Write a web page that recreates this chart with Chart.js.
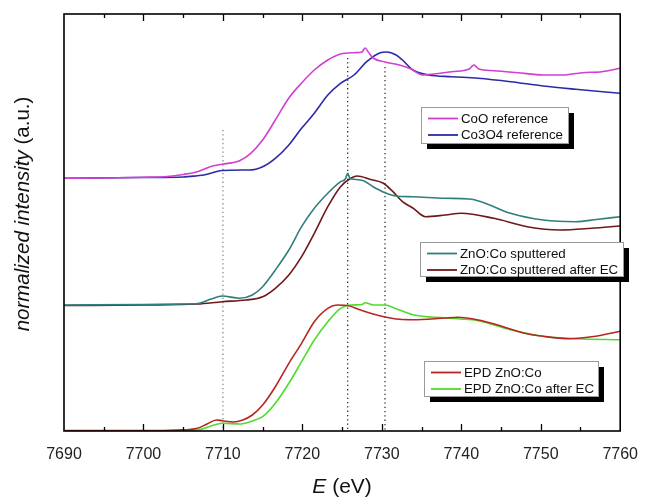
<!DOCTYPE html>
<html><head><meta charset="utf-8">
<script src="https://cdn.jsdelivr.net/npm/chart.js@4.4.1/dist/chart.umd.min.js"></script>
<style>html,body{margin:0;padding:0;background:#fff}</style>
</head><body>
<canvas id="c" width="652" height="498"></canvas>
<script>
// ---- data (energy in eV, intensity in arbitrary offset units) ----
const xTicks = [7690, 7700, 7710, 7720, 7730, 7740, 7750, 7760];

const coOE = [7690,7695,7700,7703,7705,7706.8,7708.4,7709.9,7712.1,7713.5,7715,7716.6,7718.3,7719.9,7721.5,7723.2,7724.8,7726.5,7727.5,7727.9,7728.3,7728.9,7730.4,7732.2,7733.7,7735.1,7736.5,7738.8,7741,7741.6,7742.2,7744.1,7747.1,7750.3,7752.7,7755.2,7757.7,7760];
const coOY = [252.7,253,253.7,254.5,256.5,259.3,264.3,266.7,270.3,277.7,291,311,333,348,361,371,377,378.3,379,383,379,373,369,366,362,356,357,359.3,362,366,362,360.3,358.3,356,356,358.3,359.3,362.7];

const co3o4E = [7690,7700,7705,7706.8,7707.6,7709.9,7712.5,7713.3,7715,7716.6,7718.3,7719.9,7721.5,7723.2,7724.8,7726.5,7728.1,7729.8,7730.6,7731.8,7732.6,7733.9,7735.9,7738.8,7742.1,7746.2,7750.3,7754.4,7760];
const co3o4Y = [252.7,253.5,254,255.3,256,260.5,261,261,264.3,272.7,286,302.7,317.7,336,347.7,356,369.3,378.3,379,376,371,361,356,354.3,352.7,349.3,345,341.7,337.7];

const sputE = [7690,7700,7705,7706.8,7708.5,7709.9,7712.1,7713.7,7715,7716.6,7718.3,7719.9,7721.5,7723.2,7724.8,7725.4,7725.7,7726,7726.5,7727.7,7728.9,7730.4,7731.8,7733.9,7737.9,7741,7742.5,7746.2,7750.3,7754.4,7757,7760];
const sputY = [126,126.5,127,127.5,132,135,132.7,136,144.3,161,181,204.3,222.7,237.7,249.3,252,257.7,252.5,251.7,250.3,244.3,238.3,235,234.3,232.7,232,229.3,217.7,211,209.3,211.5,214.3];

const sputEcE = [7690,7700,7706.8,7709.9,7712.9,7715,7716.6,7718.3,7719.9,7721.5,7723.2,7724.8,7726.1,7726.9,7728.5,7730.2,7731.4,7732.6,7733.9,7735.5,7738,7740,7744.1,7748.3,7752.4,7756.4,7760];
const sputEcY = [125.5,126,127,129.3,131,134.3,142.7,156,174.3,197.7,224.3,244.3,252.7,255,251.7,247.7,239.3,229.3,223,214.3,216,217.7,212.7,204.3,201,202.7,205];

const epdE = [7690,7700,7704.3,7706.8,7708,7709.2,7709.9,7711.3,7712.5,7713.7,7715,7716.6,7718.3,7719.9,7721.5,7723.2,7724.4,7725.7,7727.3,7728.9,7730.4,7732.2,7733.9,7738,7739.6,7741.5,7743.7,7747.8,7750.3,7753.6,7756.9,7760];
const epdY = [0.5,0.5,1,2.8,7,11,10.3,9,11,16,26,44.3,67.7,87.7,109.3,122.7,126,125.5,121,117,114,111.7,111.3,113,113.7,112,108,98,94.7,92.3,94.7,99.7];

const epdEcE = [7690,7700,7705,7706.8,7708.5,7709.9,7712.1,7713.5,7715,7716.6,7718.3,7719.9,7721.5,7723.2,7724.8,7726.1,7727.5,7727.9,7728.9,7730.4,7731.8,7733.9,7738,7742.1,7746.2,7750.3,7754.4,7760];
const epdEcY = [0,0,0.5,1,5,7.7,7,9.5,14.3,27.7,47.7,69.3,91,109.3,122.7,126,126.5,128.3,126,126,122.3,116.3,113,110.3,101.3,94.7,92.3,91.3];

// dotted guide lines: energy and top value
const guideE = [7710, 7725.7, 7730.4];
const guideTop = [301, 373, 364];

const seriesLabels = ['CoO reference','Co3O4 reference','ZnO:Co sputtered','ZnO:Co sputtered after EC','EPD ZnO:Co','EPD ZnO:Co after EC'];
const seriesColors = ['#d040d0','#2b2ba8','#2f7f7c','#6e1818','#b82424','#4fdc2a'];

function pts(e, y){ return e.map((v,i)=>({x:v, y:y[i]})); }
const seriesData = [pts(coOE,coOY), pts(co3o4E,co3o4Y), pts(sputE,sputY), pts(sputEcE,sputEcY), pts(epdE,epdY), pts(epdEcE,epdEcY)];

const datasets = seriesData.map((d,i)=>({
  label: seriesLabels[i], data: d, borderColor: seriesColors[i], backgroundColor: seriesColors[i],
  borderWidth: 1.6, pointRadius: 0, cubicInterpolationMode: 'monotone', fill: false
}));
guideE.forEach((e,i)=>{
  datasets.push({label:'_guide'+i, data:[{x:e,y:guideTop[i]},{x:e,y:0}], borderColor: i===0?'#8a8a8a':'#333',
    borderWidth: 1.3, borderDash:[1.3,3], pointRadius:0, fill:false});
});

const legendGroups = [
  {box:[421,107,147,36], idx:[0,1]},
  {box:[420,242,203,34], idx:[2,3]},
  {box:[424,361,174,35], idx:[4,5]}
];

const decor = {
  id:'decor',
  afterDraw(chart){
    const ctx = chart.ctx, ca = chart.chartArea, xs = chart.scales.x;
    ctx.save();
    // inward ticks top & bottom
    ctx.strokeStyle = '#000'; ctx.lineWidth = 1.3;
    for (let v = 7695; v < 7760; v += 5) {
      const px = Math.round(xs.getPixelForValue(v)) + 0.5;
      const len = (v % 10 === 0) ? 7 : 4;
      ctx.beginPath();
      ctx.moveTo(px, ca.bottom); ctx.lineTo(px, ca.bottom - len);
      ctx.moveTo(px, ca.top); ctx.lineTo(px, ca.top + len);
      ctx.stroke();
    }
    // frame
    ctx.lineWidth = 1.6;
    ctx.strokeRect(ca.left, ca.top, ca.right - ca.left, ca.bottom - ca.top);

    // legends
    legendGroups.forEach(g=>{
      const [bx,by,bw,bh] = g.box;
      ctx.fillStyle = '#000';
      ctx.fillRect(bx+6, by+6, bw, bh);
      ctx.fillStyle = '#fff';
      ctx.fillRect(bx, by, bw, bh);
      ctx.strokeStyle = '#9a9a9a'; ctx.lineWidth = 1;
      ctx.strokeRect(bx+0.5, by+0.5, bw, bh);
      g.idx.forEach((di,k)=>{
        const ds = chart.data.datasets[di];
        const yy = by + 11.5 + k*16.5;
        ctx.strokeStyle = ds.borderColor; ctx.lineWidth = 1.8;
        ctx.beginPath(); ctx.moveTo(bx+7, yy); ctx.lineTo(bx+37, yy); ctx.stroke();
        ctx.fillStyle = '#111';
        ctx.font = '13.3px "Liberation Sans", Arial, sans-serif';
        ctx.textBaseline = 'middle'; ctx.textAlign = 'left';
        ctx.fillText(ds.label, bx+40, yy+0.5);
      });
    });

    // x title: E (eV)
    ctx.fillStyle = '#111'; ctx.textBaseline = 'middle'; ctx.textAlign = 'left';
    const f1 = 'italic 21px "Liberation Sans", Arial, sans-serif';
    const f2 = '21px "Liberation Sans", Arial, sans-serif';
    ctx.font = f1; const w1 = ctx.measureText('E').width;
    ctx.font = f2; const w2 = ctx.measureText(' (eV)').width;
    const cx = (ca.left + ca.right)/2;
    let sx = cx - (w1+w2)/2;
    ctx.font = f1; ctx.fillText('E', sx, 487);
    ctx.font = f2; ctx.fillText(' (eV)', sx + w1, 487);

    // y title
    ctx.translate(23, 214); ctx.rotate(-Math.PI/2);
    const g1 = 'italic 20.5px "Liberation Sans", Arial, sans-serif';
    const g2 = '20.5px "Liberation Sans", Arial, sans-serif';
    ctx.font = g1; const v1 = ctx.measureText('normalized intensity').width;
    ctx.font = g2; const v2 = ctx.measureText(' (a.u.)').width;
    let sy = -(v1+v2)/2;
    ctx.font = g1; ctx.fillText('normalized intensity', sy, 0);
    ctx.font = g2; ctx.fillText(' (a.u.)', sy + v1, 0);
    ctx.restore();
  }
};

new Chart(document.getElementById('c'), {
  type: 'line',
  data: { datasets },
  options: {
    responsive: false, animation: false, devicePixelRatio: 1,
    layout: { padding: { left: 64, right: 20, top: 14, bottom: 0 } },
    plugins: { legend: { display: false }, tooltip: { enabled: false } },
    scales: {
      x: {
        type: 'linear', min: 7690, max: 7760,
        afterBuildTicks(s){ s.ticks = xTicks.map(v=>({value:v})); },
        afterFit(s){ s.height = 67; },
        grid: { display: false, drawTicks: false },
        border: { display: false },
        ticks: { autoSkip: false, maxRotation: 0, padding: 14, color: '#222',
          font: { size: 16, family: '"Liberation Sans", Arial, sans-serif' },
          callback: v => String(v) }
      },
      y: { display: false, min: 0, max: 417 }
    }
  },
  plugins: [decor]
});
</script>
</body></html>
